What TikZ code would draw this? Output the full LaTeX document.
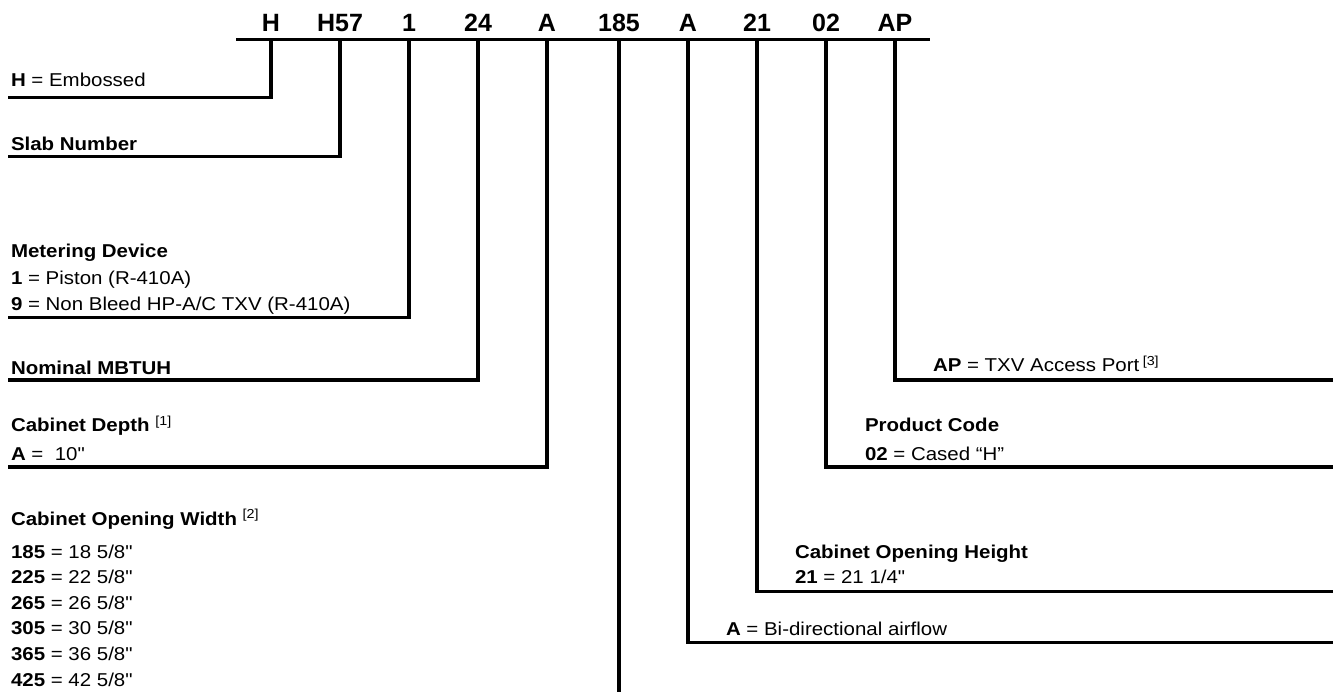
\documentclass[tikz,border=0pt]{standalone}
\usepackage{fontspec}
\setmainfont{Liberation Sans}[Ligatures=TeXOff]
\newcommand\sx[1]{\scalebox{1.1}[1]{#1}}
\begin{document}
\begin{tikzpicture}[x=1pt,y=-1pt,
  every node/.style={inner sep=0pt,outer sep=0pt},
  lbl/.style={anchor=base west,font=\fontsize{18.6}{20}\selectfont},
  code/.style={anchor=base,font=\fontsize{25}{27}\selectfont\bfseries},
  conn/.style={line width=3.2pt,line join=miter,line cap=rect}]
\useasboundingbox (0,0) rectangle (1333,692);
% header
\coordinate (hl) at (236,39.5);
\coordinate (hr) at (930,39.5);
\draw[conn,line cap=butt] (hl) -- (hr);
\foreach \n/\t/\x in {cH/H/271,cS/H57/340,cM/1/409,cN/24/478,cD/A/547,cW/185/619,cF/A/688,cO/21/757,cP/02/826,cA/AP/895}{
  \node[code] (\n) at (\x,31.5) {\t};
  \coordinate (t\n) at (\x,39.5);
}
% left side endpoints
\coordinate (eH) at (10,97.5);
\coordinate (eS) at (10,156.5);
\coordinate (eM) at (10,317.5);
\coordinate (eN) at (10,380);
\coordinate (eD) at (10,467);
\coordinate (eW) at (619,700);
% right side endpoints
\coordinate (eA) at (1340,380);
\coordinate (eP) at (1340,467);
\coordinate (eO) at (1340,591.5);
\coordinate (eF) at (1340,642.5);
\draw[conn] (tcH) |- (eH);
\draw[conn] (tcS) |- (eS);
\draw[conn] (tcM) |- (eM);
\draw[conn] (tcN) |- (eN);
\draw[conn] (tcD) |- (eD);
\draw[conn,line cap=butt] (tcW) -- (eW);
\draw[conn] (tcF) |- (eF);
\draw[conn] (tcO) |- (eO);
\draw[conn] (tcP) |- (eP);
\draw[conn] (tcA) |- (eA);
% left labels
\node[lbl] (lH) at (11,86.5) {\sx{\textbf{H} = Embossed}};
\node[lbl] (lS) at (11,151) {\sx{\textbf{Slab Number}}};
\node[lbl] (lM1) at (11,258) {\sx{\textbf{Metering Device}}};
\node[lbl] (lM2) at (11,284.5) {\sx{\textbf{1} = Piston (R-410A)}};
\node[lbl] (lM3) at (11,311) {\sx{\textbf{9} = Non Bleed HP-A/C TXV (R-410A)}};
\node[lbl] (lN) at (11,374) {\sx{\textbf{Nominal MBTUH}}};
\node[lbl] (lD1) at (11,431.5) {\sx{\textbf{Cabinet Depth} \textsuperscript{[1]}}};
\node[lbl] (lD2) at (11,460.5) {\sx{\textbf{A} =\ \ 10"}};
\node[lbl] (lW0) at (11,525) {\sx{\textbf{Cabinet Opening Width} \textsuperscript{[2]}}};
\node[lbl] (lW1) at (11,558) {\sx{\textbf{185} = 18 5/8"}};
\node[lbl] (lW2) at (11,583.6) {\sx{\textbf{225} = 22 5/8"}};
\node[lbl] (lW3) at (11,609.2) {\sx{\textbf{265} = 26 5/8"}};
\node[lbl] (lW4) at (11,634.8) {\sx{\textbf{305} = 30 5/8"}};
\node[lbl] (lW5) at (11,660.4) {\sx{\textbf{365} = 36 5/8"}};
\node[lbl] (lW6) at (11,686) {\sx{\textbf{425} = 42 5/8"}};
% right labels
\node[lbl] (lA) at (933,371.7) {\sx{\textbf{AP} = TXV Access Port\,\textsuperscript{[3]}}};
\node[lbl] (lP1) at (865,431.7) {\sx{\textbf{Product Code}}};
\node[lbl] (lP2) at (865,460) {\sx{\textbf{02} = Cased “H”}};
\node[lbl] (lO1) at (795,558) {\sx{\textbf{Cabinet Opening Height}}};
\node[lbl] (lO2) at (795,583) {\sx{\textbf{21} = 21 1/4"}};
\node[lbl] (lF) at (726,635) {\sx{\textbf{A} = Bi-directional airflow}};
\end{tikzpicture}
\end{document}
